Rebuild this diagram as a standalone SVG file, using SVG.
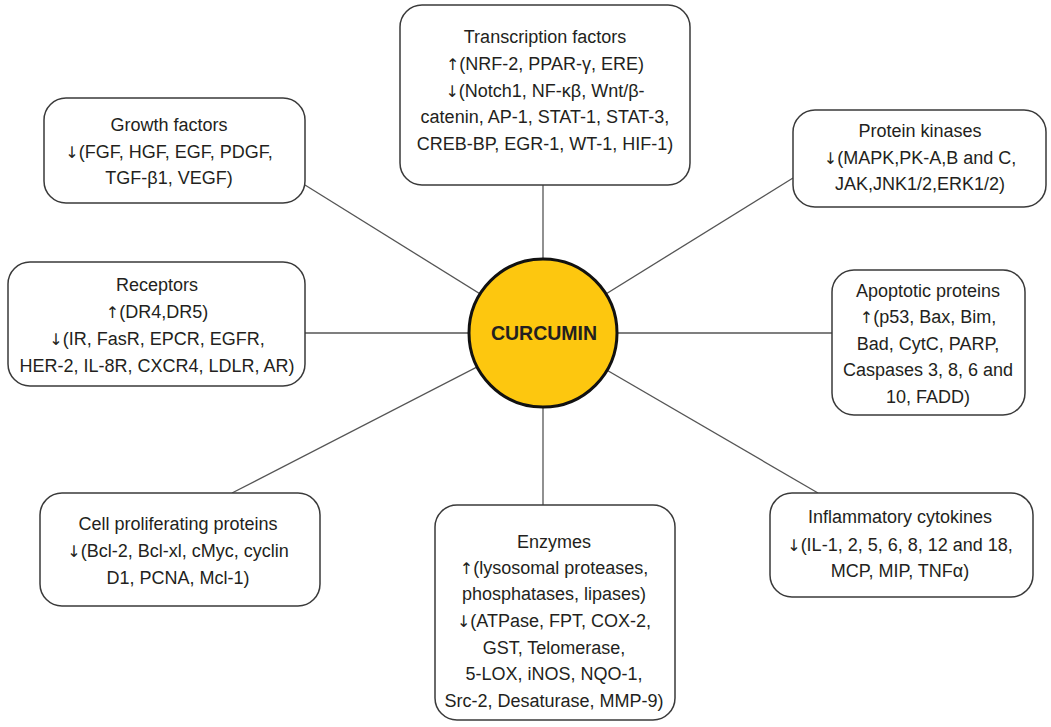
<svg xmlns="http://www.w3.org/2000/svg" width="1051" height="727" viewBox="0 0 1051 727">
<style>
.box{fill:#fff;stroke:#3a3a3a;stroke-width:1.5}
.t{font-family:"Liberation Sans",Arial,sans-serif;font-size:18px;fill:#231f20;text-anchor:middle}
.a{font-family:"DejaVu Sans",sans-serif;font-size:16px;fill:#231f20}
.c{stroke:#555;stroke-width:1.3;fill:none}
</style>
<rect width="1051" height="727" fill="#fff"/>
<g id="connectors">
<line class="c" x1="543" y1="185" x2="543" y2="333"/>
<line class="c" x1="305" y1="185" x2="543" y2="333"/>
<line class="c" x1="793" y1="178" x2="543" y2="333"/>
<line class="c" x1="305" y1="333" x2="543" y2="333"/>
<line class="c" x1="832" y1="333" x2="543" y2="333"/>
<line class="c" x1="232" y1="493" x2="543" y2="333"/>
<line class="c" x1="543" y1="505" x2="543" y2="333"/>
<line class="c" x1="818" y1="493" x2="543" y2="333"/>
</g>
<g id="curcumin">
<circle cx="543" cy="333" r="74" fill="#fdc70f" stroke="#111" stroke-width="3"/>
<text x="544" y="340" class="t" style="font-weight:bold;font-size:19.5px">CURCUMIN</text>
</g>
<g id="transcription">
<rect class="box" x="400" y="5" width="290" height="180" rx="22"/>
<text class="t"><tspan x="545" y="43">Transcription factors</tspan><tspan x="545" y="70"><tspan class="a">↑</tspan>(NRF-2, PPAR-γ, ERE)</tspan><tspan x="545" y="97"><tspan class="a">↓</tspan>(Notch1, NF-κβ, Wnt/β-</tspan><tspan x="545" y="123">catenin, AP-1, STAT-1, STAT-3,</tspan><tspan x="545" y="150">CREB-BP, EGR-1, WT-1, HIF-1)</tspan></text>
</g>
<g id="growth">
<rect class="box" x="44" y="98" width="261" height="105" rx="22"/>
<text class="t"><tspan x="169" y="131">Growth factors</tspan><tspan x="169" y="158"><tspan class="a">↓</tspan>(FGF, HGF, EGF, PDGF,</tspan><tspan x="169" y="184">TGF-β1, VEGF)</tspan></text>
</g>
<g id="kinases">
<rect class="box" x="793" y="110" width="253" height="97" rx="22"/>
<text class="t"><tspan x="920" y="137">Protein kinases</tspan><tspan x="920" y="164"><tspan class="a">↓</tspan>(MAPK,PK-A,B and C,</tspan><tspan x="920" y="190">JAK,JNK1/2,ERK1/2)</tspan></text>
</g>
<g id="receptors">
<rect class="box" x="8" y="262" width="297" height="124" rx="22"/>
<text class="t"><tspan x="157" y="291">Receptors</tspan><tspan x="157" y="318"><tspan class="a">↑</tspan>(DR4,DR5)</tspan><tspan x="157" y="345"><tspan class="a">↓</tspan>(IR, FasR, EPCR, EGFR,</tspan><tspan x="157" y="372">HER-2, IL-8R, CXCR4, LDLR, AR)</tspan></text>
</g>
<g id="apoptotic">
<rect class="box" x="832" y="270" width="193" height="145" rx="22"/>
<text class="t"><tspan x="928" y="297">Apoptotic proteins</tspan><tspan x="928" y="323"><tspan class="a">↑</tspan>(p53, Bax, Bim,</tspan><tspan x="928" y="350">Bad, CytC, PARP,</tspan><tspan x="928" y="376">Caspases 3, 8, 6 and</tspan><tspan x="928" y="403">10, FADD)</tspan></text>
</g>
<g id="proliferating">
<rect class="box" x="40" y="493" width="280" height="113" rx="22"/>
<text class="t"><tspan x="178" y="530">Cell proliferating proteins</tspan><tspan x="178" y="557"><tspan class="a">↓</tspan>(Bcl-2, Bcl-xl, cMyc, cyclin</tspan><tspan x="178" y="584">D1, PCNA, Mcl-1)</tspan></text>
</g>
<g id="enzymes">
<rect class="box" x="435" y="505" width="240" height="215" rx="22"/>
<text class="t"><tspan x="554" y="548">Enzymes</tspan><tspan x="554" y="574"><tspan class="a">↑</tspan>(lysosomal proteases,</tspan><tspan x="554" y="600">phosphatases, lipases)</tspan><tspan x="554" y="627"><tspan class="a">↓</tspan>(ATPase, FPT, COX-2,</tspan><tspan x="554" y="654">GST, Telomerase,</tspan><tspan x="554" y="680">5-LOX, iNOS, NQO-1,</tspan><tspan x="554" y="707">Src-2, Desaturase, MMP-9)</tspan></text>
</g>
<g id="inflammatory">
<rect class="box" x="770" y="493" width="263" height="104" rx="22"/>
<text class="t"><tspan x="900" y="523">Inflammatory cytokines</tspan><tspan x="900" y="551"><tspan class="a">↓</tspan>(IL-1, 2, 5, 6, 8, 12 and 18,</tspan><tspan x="900" y="577">MCP, MIP, TNFα)</tspan></text>
</g>
</svg>
